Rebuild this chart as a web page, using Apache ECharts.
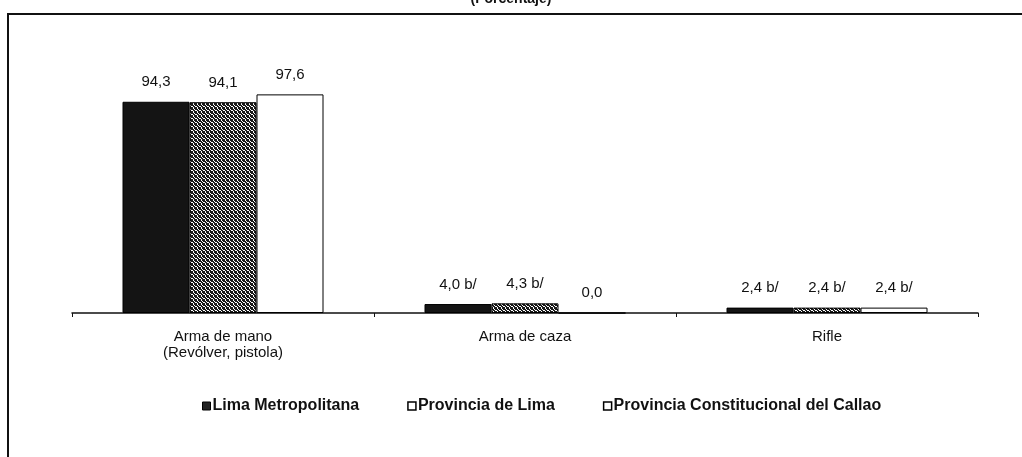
<!DOCTYPE html>
<html>
<head>
<meta charset="utf-8">
<script src="https://cdn.jsdelivr.net/npm/echarts@6/dist/echarts.min.js"></script>
<style>
  html, body { margin: 0; padding: 0; background: #fff; }
  #chart { width: 1022px; height: 457px; }
</style>
</head>
<body>
<div id="chart"></div>
<script>
// categorias y valores (porcentaje)
const categories = ['Arma de mano\n(Revólver, pistola)', 'Arma de caza', 'Rifle']
const limaMetropolitana = [94.3, 4.0, 2.4]
const provinciaLima = [94.1, 4.3, 2.4]
const callao = [97.6, 0.0, 2.4]
// notas junto al valor
const limaMetropolitanaNotes = ['', ' b/', ' b/']
const provinciaLimaNotes = ['', ' b/', ' b/']
const callaoNotes = ['', '', ' b/']
const seriesNames = ['Lima Metropolitana', 'Provincia de Lima', 'Provincia Constitucional del Callao']

// textura punteada para Provincia de Lima
function makePattern () {
  const bits = [
    '1011',
    '1101',
    '0110',
    '1011'
  ]
  const c = document.createElement('canvas')
  c.width = 4
  c.height = 4
  const ctx = c.getContext('2d')
  ctx.fillStyle = '#fff'
  ctx.fillRect(0, 0, 4, 4)
  ctx.fillStyle = '#1a1a1a'
  bits.forEach((row, y) => {
    row.split('').forEach((b, x) => {
      if (b === '1') ctx.fillRect(x, y, 1, 1)
    })
  })
  return c
}

const font = '"Liberation Sans", Arial, sans-serif'
const myChart = echarts.init(document.getElementById('chart'))

const makeSeries = (name, values, notes, color) => ({
  name,
  type: 'bar',
  data: values,
  barWidth: 67,
  barGap: '0%',
  itemStyle: { color, borderColor: '#000', borderWidth: 1 },
  label: {
    show: true,
    position: 'top',
    distance: 12,
    fontFamily: font,
    fontSize: 15,
    color: '#111',
    formatter: (p) => p.value.toFixed(1).replace('.', ',') + notes[p.dataIndex]
  }
})

const option = {
  animation: false,
  backgroundColor: '#fff',
  title: {
    text: '(Porcentaje)',
    left: 'center',
    top: -13,
    textStyle: { fontFamily: font, fontSize: 14, fontWeight: 'bold', color: '#111' }
  },
  graphic: [{
    type: 'rect',
    shape: { x: 8, y: 14, width: 1040, height: 470 },
    style: { fill: null, stroke: '#111', lineWidth: 2 },
    silent: true
  }],
  grid: { left: 72, right: 44, top: 89, bottom: 144 },
  legend: {
    left: 202,
    top: 398,
    padding: 0,
    itemWidth: 8,
    itemHeight: 8,
    itemGap: 48,
    icon: 'rect',
    data: [
      { name: seriesNames[0], itemStyle: { color: '#222', borderColor: '#000', borderWidth: 1 } },
      { name: seriesNames[1], itemStyle: { color: '#fff', borderColor: '#000', borderWidth: 1.5 } },
      { name: seriesNames[2], itemStyle: { color: '#fff', borderColor: '#000', borderWidth: 1.5 } }
    ],
    textStyle: { fontFamily: font, fontSize: 16, fontWeight: 'bold', color: '#111', padding: [0, 0, 0, -3] }
  },
  xAxis: {
    type: 'category',
    data: categories,
    axisLine: { lineStyle: { color: '#111', width: 1.5 } },
    axisTick: { show: true, length: 4, lineStyle: { color: '#111' } },
    axisLabel: {
      margin: 16,
      fontFamily: font,
      fontSize: 15,
      lineHeight: 16,
      color: '#111'
    }
  },
  yAxis: {
    type: 'value',
    min: 0,
    max: 100,
    show: false,
    splitLine: { show: false }
  },
  series: [
    makeSeries(seriesNames[0], limaMetropolitana, limaMetropolitanaNotes, '#141414'),
    makeSeries(seriesNames[1], provinciaLima, provinciaLimaNotes, { image: makePattern(), repeat: 'repeat' }),
    makeSeries(seriesNames[2], callao, callaoNotes, '#fff')
  ]
}
myChart.setOption(option)
</script>
</body>
</html>
